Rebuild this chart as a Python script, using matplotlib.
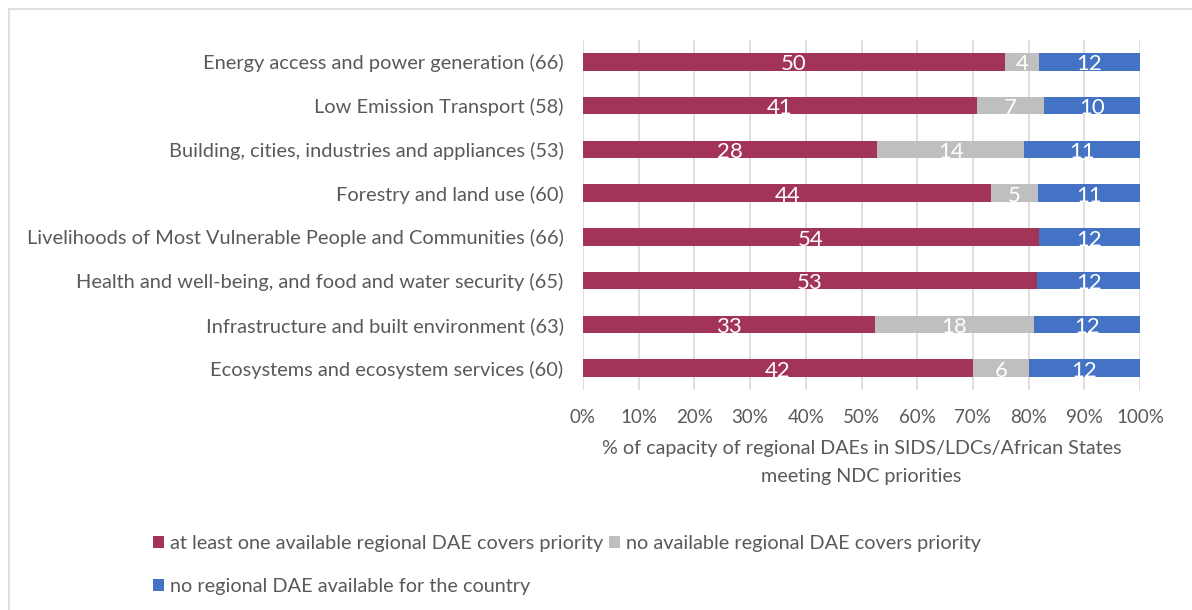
import numpy as np
import matplotlib
matplotlib.use("Agg")
import matplotlib.pyplot as plt
from matplotlib.lines import Line2D

plt.rcParams["font.family"] = ["Lato", "DejaVu Sans"]

# ── Data ──────────────────────────────────────────────────────────────────────
categories = [
    "Energy access and power generation (66)",
    "Low Emission Transport (58)",
    "Building, cities, industries and appliances (53)",
    "Forestry and land use (60)",
    "Livelihoods of Most Vulnerable People and Communities (66)",
    "Health and well-being, and food and water security (65)",
    "Infrastructure and built environment (63)",
    "Ecosystems and ecosystem services (60)",
]
covered     = [50, 41, 28, 44, 54, 53, 33, 42]
not_covered = [4, 7, 14, 5, 0, 0, 18, 6]
no_dae      = [12, 10, 11, 11, 12, 12, 12, 12]

series_names = [
    "at least one available regional DAE covers priority",
    "no available regional DAE covers priority",
    "no regional DAE available for the country",
]
series_colors = ["#A23457", "#BFBFBF", "#4472C4"]
xticks = np.arange(0, 101, 10)

TEXT = "#595959"

# ── Plot ──────────────────────────────────────────────────────────────────────
counts = np.array([covered, not_covered, no_dae], dtype=float)
totals = counts.sum(axis=0)
shares = counts / totals * 100

fig = plt.figure(figsize=(11.92, 6.10), dpi=100)
ax = fig.add_axes([583 / 1192, 1 - 390 / 610, (1140 - 583) / 1192, 350 / 610])

y = np.arange(len(categories))
left = np.zeros(len(categories))
handles = []
for k in range(3):
    bars = ax.barh(y, shares[k], left=left, height=0.4, color=series_colors[k],
                   zorder=2, label=series_names[k])
    handles.append(bars)
    for i, b in enumerate(bars):
        if counts[k, i] > 0:
            ax.text(left[i] + shares[k, i] / 2, y[i] + 0.06, f"{int(counts[k, i])}",
                    ha="center", va="center", color="white", fontsize=16, zorder=3)
    left += shares[k]

ax.set_ylim(len(categories) - 0.5, -0.5)
ax.set_xlim(0, 100)
ax.set_xticks(xticks)
ax.set_xticklabels([f"{t}%" for t in xticks])
ax.set_yticks(y)
ax.set_yticklabels(categories)
ax.tick_params(axis="both", length=0, colors=TEXT)
ax.tick_params(axis="x", pad=14, labelsize=13.5)
ax.tick_params(axis="y", pad=14, labelsize=14.4)
ax.grid(axis="x", color="#D9D9D9", linewidth=1.2, zorder=0)
for s in ax.spines.values():
    s.set_visible(False)

ax.set_xlabel("% of capacity of regional DAEs in SIDS/LDCs/African States\nmeeting NDC priorities",
              fontsize=14.2, color=TEXT, labelpad=10, linespacing=1.75)

# legend: two columns, third entry wraps to the second row
order = [0, 2, 1]
leg = fig.legend([handles[i] for i in order], [series_names[i] for i in order],
                 ncol=2, loc="upper left", bbox_to_anchor=(145 / 1192, 1 - 527 / 610),
                 frameon=False, fontsize=14.3, labelcolor=TEXT,
                 handlelength=0.55, handleheight=0.55, handletextpad=0.3,
                 columnspacing=0.3, labelspacing=1.3, borderaxespad=0)

# chart-area border (top and left edges)
fig.add_artist(Line2D([9 / 1192, 1], [1 - 9 / 610, 1 - 9 / 610], color="#D9D9D9", linewidth=1.2))
fig.add_artist(Line2D([9 / 1192, 9 / 1192], [0, 1 - 9 / 610], color="#D9D9D9", linewidth=1.2))

fig.savefig("out.png", dpi=100)
